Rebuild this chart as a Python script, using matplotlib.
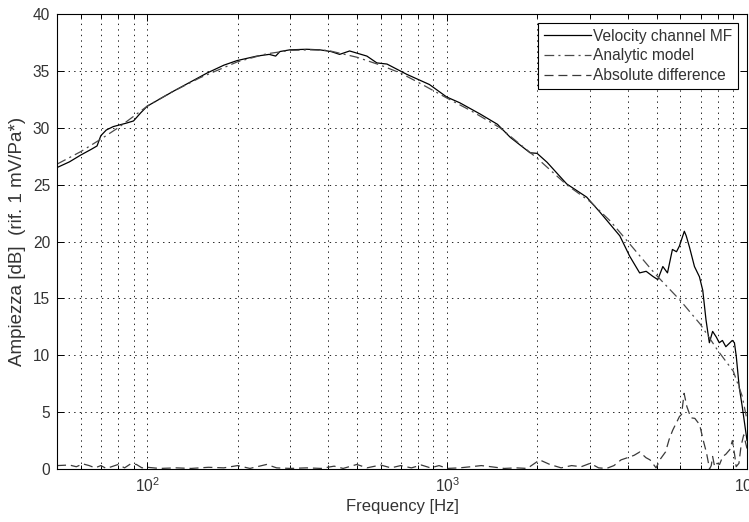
import matplotlib
matplotlib.use("Agg")
import matplotlib.pyplot as plt
from matplotlib.ticker import LogLocator, FixedLocator, NullFormatter

plt.rcParams['font.family'] = ['Liberation Sans', 'DejaVu Sans']
plt.rcParams['mathtext.fontset'] = 'custom'
plt.rcParams['mathtext.rm'] = 'Liberation Sans'
plt.rcParams['mathtext.it'] = 'Liberation Sans'
plt.rcParams['lines.scale_dashes'] = False

# ---- data ----
vel_f = [50, 55, 60, 65, 68, 70, 73, 77, 85, 90, 95, 100, 122, 158, 180, 199, 232, 255,
         268, 277, 299, 340, 376, 410, 438, 473, 540, 583, 630, 733, 873, 997, 1101,
         1290, 1472, 1625, 1890, 1995, 2155, 2505, 2920, 3228, 3765, 4064, 4385, 4610,
         4850, 5040, 5240, 5430, 5640, 5820, 5950, 6180, 6270, 6430, 6680, 6940, 7120,
         7300, 7490, 7680, 7900, 8080, 8280, 8500, 8930, 9080, 9210, 9420, 9640, 10000]
vel_db = [26.5, 27.0, 27.6, 28.1, 28.4, 29.3, 29.8, 30.1, 30.4, 30.6, 31.3, 31.9, 33.2,
          34.8, 35.5, 35.9, 36.3, 36.45, 36.3, 36.7, 36.85, 36.9, 36.85, 36.7, 36.45,
          36.75, 36.3, 35.7, 35.6, 34.7, 33.8, 32.7, 32.2, 31.2, 30.3, 29.15, 27.8,
          27.75, 26.96, 25.06, 23.9, 22.6, 20.5, 18.7, 17.24, 17.38, 16.94, 16.65, 17.8,
          17.24, 19.3, 19.1, 19.6, 20.9, 20.5, 19.5, 17.8, 16.9, 15.7, 13.1, 11.1, 12.1,
          11.6, 11.1, 11.3, 10.75, 11.3, 11.1, 9.9, 7.2, 5.5, 2.5]

mod_f = [50, 60, 70, 80, 90, 100, 120, 150, 200, 250, 300, 350, 400, 500, 600, 700,
         800, 1000, 1200, 1500, 2000, 2500, 3000, 3500, 4000, 4740, 5000, 6000, 7000,
         8000, 9000, 9640, 10000]
mod_db = [26.8, 27.9, 29.0, 30.0, 31.0, 31.9, 33.1, 34.4, 35.8, 36.5, 36.8, 36.85, 36.8,
          36.2, 35.5, 34.8, 34.0, 32.6, 31.5, 30.0, 27.3, 25.0, 23.5, 21.8, 20.0, 17.7,
          17.0, 14.8, 12.7, 10.4, 8.6, 6.4, 4.3]

diff_f = [50, 55, 58, 61, 64, 67, 70, 73, 76, 80, 84, 88, 92, 96, 100, 110, 125, 140,
          160, 180, 200, 220, 250, 270, 300, 340, 380, 420, 450, 500, 540, 600, 650, 700,
          760, 820, 880, 940, 1000, 1100, 1200, 1300, 1400, 1550, 1700, 1850, 2035, 2200,
          2400, 2600, 2800, 3000, 3200, 3400, 3600, 3800, 4000, 4200, 4390, 4600, 4750,
          4975, 5150, 5350, 5500, 5650, 5950, 6050, 6170, 6300, 6500, 6700, 6950, 7150,
          7330, 7500, 7600, 7680, 7800, 7950, 8100, 8300, 8500, 8760, 8940, 9100, 9200,
          9400, 9550, 9750, 10000]
diff_db = [0.3, 0.35, 0.2, 0.45, 0.3, 0.1, 0.3, 0.05, 0.2, 0.4, 0.1, 0.45, 0.4, 0.1,
           0.15, 0.05, 0.1, 0.05, 0.15, 0.1, 0.3, 0.05, 0.4, 0.1, 0.05, 0.1, 0.05, 0.25,
           0.05, 0.4, 0.1, 0.35, 0.1, 0.3, 0.1, 0.35, 0.1, 0.3, 0.05, 0.1, 0.2, 0.3, 0.2,
           0.05, 0.1, 0.05, 0.8, 0.4, 0.1, 0.3, 0.2, 0.5, 0.1, 0.05, 0.3, 0.8, 1.0, 1.2,
           1.5, 1.0, 0.8, 0.1, 0.9, 1.5, 2.6, 3.4, 4.6, 4.8, 6.65, 5.5, 4.5, 4.45, 3.9,
           2.5, 1.4, 0.0, 0.3, 1.1, 0.2, 0.5, 0.4, 1.1, 1.3, 1.7, 2.5, 1.2, 0.2, 0.5, 2.0,
           3.0, 1.8]

labels = ['Velocity channel MF', 'Analytic model', 'Absolute difference']
y_ticks = [0, 5, 10, 15, 20, 25, 30, 35, 40]
x_major = [100, 1000, 10000]
x_major_labels = [r'$10^{2}$', r'$10^{3}$', r'$10^{4}$']

# ---- figure ----
fig = plt.figure(figsize=(7.49, 5.22), dpi=100)
ax = fig.add_axes([57 / 749, 53 / 522, 690 / 749, 455 / 522])

ax.plot(vel_f, vel_db, color='black', lw=0.9, label=labels[0])
ax.plot(mod_f, mod_db, color='#4a4a4a', lw=0.9, dashes=(7, 3, 1.5, 3), label=labels[1])
ax.plot(diff_f, diff_db, color='#3a3a3a', lw=0.9, dashes=(6.5, 3.5), label=labels[2])

ax.set_xscale('log')
ax.set_xlim(50, 10000)
ax.set_ylim(0, 40)
ax.set_yticks(y_ticks)
ax.xaxis.set_major_locator(FixedLocator(x_major))
ax.set_xticklabels(x_major_labels)
ax.xaxis.set_minor_locator(LogLocator(base=10, subs=range(2, 10)))
ax.xaxis.set_minor_formatter(NullFormatter())

ax.grid(True, which='major', axis='both', linestyle=(0, (1, 3)), color='#222222', lw=0.7)
ax.grid(True, which='minor', axis='x', linestyle=(0, (1, 3)), color='#222222', lw=0.7)

ax.tick_params(which='both', direction='in', top=True, right=True, labelsize=11.2,
               labelcolor='#333333', colors='black', width=0.7)
ax.tick_params(which='major', length=5, pad=5)
ax.tick_params(which='minor', length=3)
for s in ax.spines.values():
    s.set_linewidth(0.8)

ax.set_xlabel('Frequency [Hz]', fontsize=12, labelpad=3, color='#333333')
ax.set_ylabel('Ampiezza [dB]  (rif. 1 mV/Pa*)', fontsize=13.5, labelpad=5, color='#333333')

leg = ax.legend(loc='upper right', fontsize=11.2, handlelength=3.0, handletextpad=0.15,
                borderaxespad=0.55, fancybox=False, framealpha=1, edgecolor='black',
                labelspacing=0.3, borderpad=0.4)
leg.get_frame().set_linewidth(0.8)
for t in leg.get_texts():
    t.set_color('#333333')

fig.savefig('out.png', dpi=100)
